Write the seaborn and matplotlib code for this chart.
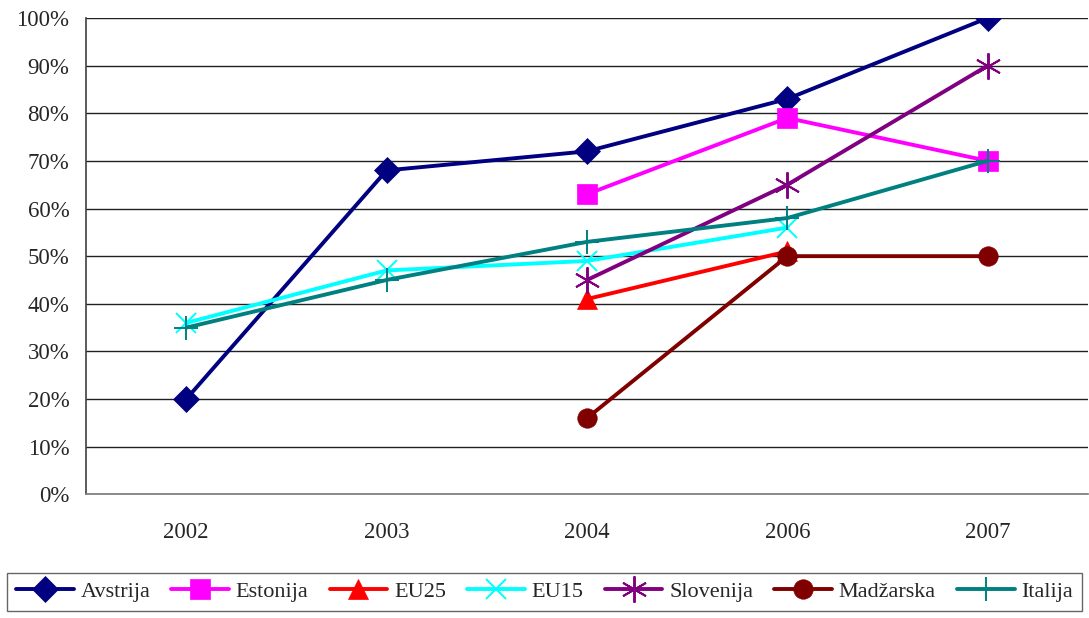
import seaborn as sns
import matplotlib.pyplot as plt
from matplotlib.ticker import PercentFormatter

years = ['2002', '2003', '2004', '2006', '2007']

avstrija = [20, 68, 72, 83, 100]
estonija = [None, None, 63, 79, 70]
eu25 = [None, None, 41, 51, None]
eu15 = [36, 47, 49, 56, None]
slovenija = [None, None, 45, 65, 90]
madzarska = [None, None, 16, 50, 50]
italija = [35, 45, 53, 58, 70]

series = [
    ('Avstrija', avstrija, '#000080', 'D', 13),
    ('Estonija', estonija, '#FF00FF', 's', 14),
    ('EU25', eu25, '#FF0000', '^', 15),
    ('EU15', eu15, '#00FFFF', 'x', 15),
    ('Slovenija', slovenija, '#800080', (6, 2, 0), 19),
    ('Madžarska', madzarska, '#800000', 'o', 14),
    ('Italija', italija, '#008080', '+', 17),
]

sns.set_theme(style='white')
plt.rcParams['font.family'] = ['Liberation Serif', 'DejaVu Serif']

fig, ax = plt.subplots(figsize=(10.89, 6.18), dpi=100)
fig.subplots_adjust(left=0.079, right=0.999, bottom=0.2, top=0.971)

pos = list(range(len(years)))
for name, vals, col, mk, ms in series:
    xs = [p for p, v in zip(pos, vals) if v is not None]
    ys = [v for v in vals if v is not None]
    sns.lineplot(x=xs, y=ys, ax=ax, color=col, linewidth=2.8, marker=mk,
                 markersize=ms, markeredgecolor=col,
                 markeredgewidth=1.4 if mk in ('x', '+', (6, 2, 0)) else 0.5,
                 label=name)

ax.set_xlim(-0.5, 4.5)
ax.set_ylim(0, 100)
ax.set_yticks(range(0, 101, 10))
ax.yaxis.set_major_formatter(PercentFormatter(decimals=0))
ax.set_xticks(pos)
ax.set_xticklabels(years)
ax.set_xticks([p + 0.5 for p in [-1] + pos], minor=True)
ax.tick_params(axis='x', which='major', length=0, pad=20, labelsize=16.5)
ax.tick_params(axis='x', which='minor', length=6, width=1, color='#808080', direction='out')
ax.tick_params(axis='y', length=6, width=1, color='#404040', direction='out', labelsize=16.5, pad=6)
ax.yaxis.grid(True, color='#202020', linewidth=1)
ax.set_axisbelow(True)
for s in ['top', 'right']:
    ax.spines[s].set_visible(False)
ax.spines['left'].set_color('#404040')
ax.spines['bottom'].set_color('#808080')
ax.spines['left'].set_linewidth(1.2)

h, l = ax.get_legend_handles_labels()
ax.get_legend().remove()
leg = fig.legend(h, l, loc='lower center', ncol=7, bbox_to_anchor=(0.5, 0.004),
                 frameon=True, fancybox=False, fontsize=16, handlelength=2.6,
                 columnspacing=0.95, handletextpad=0.3, borderpad=0.4,
                 borderaxespad=0.2)
leg.get_frame().set_edgecolor('#404040')
leg.get_frame().set_linewidth(1)

fig.savefig('out.png', dpi=100)
